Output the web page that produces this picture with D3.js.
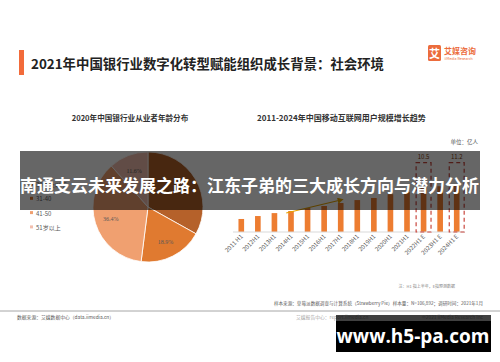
<!DOCTYPE html>
<html>
<head>
<meta charset="utf-8">
<script src="https://cdn.jsdelivr.net/npm/d3@7"></script>
<style>
  body { margin: 0; background: #fff; }
  svg { display: block; font-family: "Noto Sans CJK SC", "Noto Sans", sans-serif; }
</style>
</head>
<body>
<div id="chart"></div>
<script>
// age distribution (pie)
var ageLabels = ["30岁及以下", "31-40", "41-50", "51岁以上"];
var ageShares = [33.1, 18.9, 36.4, 11.6];
var ageColors = ["#b5612a", "#e07a30", "#f0a070", "#f2bfae"];

// mobile internet users (bars), 亿人
var periods = ["2011 H1", "2012H1", "2013H1", "2014H1", "2015H1", "2016H1", "2017H1",
               "2018H1", "2019H1", "2020H1", "2021H1", "2022H1 E", "2023H1 E", "2024H1 E"];
var users = [3.1, 3.8, 4.5, 5.0, 5.7, 6.2, 6.9, 7.6, 8.1, 9.0, 9.5, 10.5, 10.9, 11.2];
var forecastMarked = ["2022H1 E", "2024H1 E"];

var W = 500, H = 362;
var svg = d3.select("#chart").append("svg")
    .attr("width", W)
    .attr("height", H);

// header
svg.append("rect").attr("x", 19).attr("y", 50).attr("width", 5).attr("height", 25).attr("fill", "#f26b3a");
svg.append("text").attr("x", 31).attr("y", 69)
    .attr("font-size", 13.4).attr("font-weight", "bold").attr("fill", "#222")
    .text("2021年中国银行业数字化转型赋能组织成长背景：社会环境");

var logo = svg.append("g").attr("transform", "translate(428,45)");
logo.append("rect").attr("width", 13).attr("height", 16).attr("rx", 1.5).attr("fill", "#ec6c3c");
logo.append("text").attr("x", 6.5).attr("y", 12.5).attr("text-anchor", "middle")
    .attr("font-size", 11).attr("font-weight", "bold").attr("fill", "#fff").text("艾");
logo.append("text").attr("x", 16).attr("y", 9).attr("font-size", 8).attr("font-weight", "bold")
    .attr("fill", "#ec6c3c").text("艾媒咨询");
logo.append("text").attr("x", 16.5).attr("y", 15).attr("font-size", 3.6)
    .attr("fill", "#ec6c3c").text("iiMedia Research");

// sub titles
svg.append("text").attr("x", 130).attr("y", 121).attr("text-anchor", "middle")
    .attr("font-size", 7.6).attr("font-weight", "bold").attr("fill", "#333")
    .text("2020年中国银行业从业者年龄分布");
svg.append("text").attr("x", 257).attr("y", 121)
    .attr("font-size", 8).attr("font-weight", "bold").attr("fill", "#333")
    .text("2011-2024年中国移动互联网用户规模增长趋势");
svg.append("text").attr("x", 478).attr("y", 144).attr("text-anchor", "end")
    .attr("font-size", 5.5).attr("fill", "#595959").text("单位：亿人");

// pie
var pie = d3.pie().sort(null).value(function(d) { return d; });
var arc = d3.arc().innerRadius(0).outerRadius(55);
var labelArc = d3.arc().innerRadius(39).outerRadius(39);
var pieG = svg.append("g").attr("transform", "translate(148,207)");
var slices = pie(ageShares);
pieG.selectAll("path").data(slices).enter().append("path")
    .attr("d", arc)
    .attr("fill", function(d, i) { return ageColors[i]; })
    .attr("stroke", "#fff").attr("stroke-width", 0.8);
pieG.selectAll("text").data(slices).enter().append("text")
    .attr("transform", function(d) { return "translate(" + labelArc.centroid(d) + ")"; })
    .attr("text-anchor", "middle").attr("dy", "0.35em")
    .attr("font-family", "Liberation Serif, serif")
    .attr("font-size", 6).attr("fill", "#595959")
    .text(function(d) { return d.data.toFixed(1) + "%"; });

var legend = svg.append("g").selectAll("g").data(ageLabels).enter().append("g")
    .attr("transform", function(d, i) { return "translate(30," + (185 + i * 14.3) + ")"; });
legend.append("rect").attr("x", 0).attr("y", -2.5).attr("width", 3).attr("height", 3)
    .attr("fill", function(d, i) { return ageColors[i]; });
legend.append("text").attr("x", 6).attr("y", 0).attr("dy", "0.35em")
    .attr("font-size", 6).attr("fill", "#595959")
    .text(function(d) { return d; });

// bars
var x = d3.scaleBand().domain(periods).range([233, 465]).paddingInner(0.66).paddingOuter(0.33);
var y = d3.scaleLinear().domain([0, 16.5]).range([232, 162.7]);

svg.append("g").selectAll("rect").data(users).enter().append("rect")
    .attr("x", function(d, i) { return x(periods[i]); })
    .attr("y", function(d) { return y(d); })
    .attr("width", x.bandwidth())
    .attr("height", function(d) { return y(0) - y(d); })
    .attr("fill", "#ed7d31");

svg.append("line").attr("x1", x.range()[0]).attr("x2", x.range()[1])
    .attr("y1", y(0)).attr("y2", y(0)).attr("stroke", "#d9d9d9").attr("stroke-width", 1);

svg.append("g").selectAll("text").data(periods).enter().append("text")
    .attr("transform", function(d) {
        return "translate(" + (x(d) + x.bandwidth() / 2 + 2) + "," + (y(0) + 5) + ") rotate(-45)";
    })
    .attr("text-anchor", "end").attr("font-size", 6).attr("fill", "#595959")
    .text(function(d) { return d; });

// forecast highlight boxes
var boxW = x.step() * 0.9;
forecastMarked.forEach(function(p) {
    var cx = x(p) + x.bandwidth() / 2;
    var v = users[periods.indexOf(p)];
    svg.append("rect").attr("x", cx - boxW / 2).attr("y", y.range()[1])
        .attr("width", boxW).attr("height", y(0) - y.range()[1])
        .attr("fill", "none").attr("stroke", "#c9473e").attr("stroke-width", 1.2)
        .attr("stroke-dasharray", "4,3");
    svg.append("text").attr("x", cx).attr("y", y.range()[1] - 4).attr("text-anchor", "middle")
        .attr("font-size", 6).attr("fill", "#843c0c").text(v.toFixed(1));
});

// trend arrow
svg.append("defs").append("marker").attr("id", "arr")
    .attr("viewBox", "0 0 10 10").attr("refX", 5).attr("refY", 5)
    .attr("markerWidth", 5).attr("markerHeight", 5).attr("orient", "auto")
    .append("path").attr("d", "M0,0L10,5L0,10z").attr("fill", "#e6a400");
var a0 = periods.indexOf("2014H1"), a1 = periods.indexOf("2017H1");
svg.append("line")
    .attr("x1", x(periods[a0]) - 2).attr("y1", y(users[a0]) + 2)
    .attr("x2", x(periods[a1]) + x.bandwidth() / 2).attr("y2", y(users[a1]) - 3)
    .attr("stroke", "#e6a400").attr("stroke-width", 1.2).attr("marker-end", "url(#arr)");

// notes + footer
svg.append("text").attr("x", 455).attr("y", 288).attr("text-anchor", "end")
    .attr("font-size", 4).attr("fill", "#7f7f7f").text("注：H1 指上半年，E指预测数据");
svg.append("text").attr("x", 483).attr("y", 305).attr("text-anchor", "end")
    .attr("font-size", 4.6).attr("fill", "#595959")
    .text("样本来源：草莓派数据调查与计算系统（Strawberry Pie）样本量：N=106,892；调研时间：2021年1月");
svg.append("line").attr("x1", 0).attr("x2", W).attr("y1", 311).attr("y2", 311)
    .attr("stroke", "#a6a6a6").attr("stroke-width", 1);
svg.append("text").attr("x", 17).attr("y", 319)
    .attr("font-size", 4.8).attr("fill", "#595959").text("数据来源：艾媒数据中心（data.iimedia.cn）");
svg.append("text").attr("x", 296).attr("y", 319)
    .attr("font-size", 4.8).attr("fill", "#a6a6a6").text("艾媒报告中心：report.iimedia.cn");
svg.append("text").attr("x", 483).attr("y", 319).attr("text-anchor", "end")
    .attr("font-size", 4.8).attr("fill", "#a6a6a6").text("©2021  iiMedia Research  Inc");

// overlay band
svg.append("rect").attr("x", 20).attr("y", 151).attr("width", 460).attr("height", 59)
    .attr("fill", "#000").attr("opacity", 0.6);
svg.append("text").attr("x", 20).attr("y", 192)
    .attr("font-size", 17).attr("font-weight", "bold").attr("fill", "#fff")
    .text("南通支云未来发展之路：江东子弟的三大成长方向与潜力分析");

// watermark box
svg.append("rect").attr("x", 336).attr("y", 315).attr("width", 155).attr("height", 6)
    .attr("fill", "#000").attr("opacity", 0.75);
svg.append("rect").attr("x", 336).attr("y", 321).attr("width", 155).attr("height", 31)
    .attr("fill", "#000");
svg.append("text").attr("x", 413).attr("y", 343).attr("text-anchor", "middle")
    .attr("font-size", 19).attr("font-weight", "bold").attr("fill", "#fff")
    .attr("font-family", "Open Sans, Noto Sans, sans-serif")
    .text("www.h5-pa.com");
</script>
</body>
</html>
